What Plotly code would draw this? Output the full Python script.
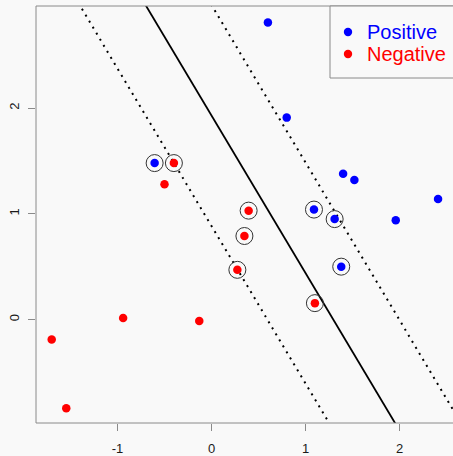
import plotly.graph_objects as go

# ---- data ----
positive_x = [0.60, 0.80, -0.605, 1.09, 1.31, 1.40, 1.52, 1.38, 1.96, 2.41]
positive_y = [2.81, 1.91, 1.48, 1.04, 0.95, 1.38, 1.32, 0.50, 0.94, 1.14]
positive_sv = [2, 3, 4, 7]

negative_x = [-0.40, -0.50, 0.395, 0.35, 0.275, 1.10, -0.94, -0.13, -1.70, -1.545]
negative_y = [1.48, 1.28, 1.03, 0.79, 0.47, 0.155, 0.015, -0.015, -0.19, -0.84]
negative_sv = [0, 2, 3, 4, 5]

boundary_intercept = 1.93
boundary_slope = -1.49
margin_offset = 1.045

x_tick_vals = [-1, 0, 1, 2]
x_tick_text = ["-1", "0", "1", "2"]
y_tick_vals = [0, 1, 2]
y_tick_text = ["0", "1", "2"]

legend_labels = ["Positive", "Negative"]
legend_colors = ["#0000ff", "#ff0000"]

x_range = [-1.867, 2.569]
y_range = [-0.979, 2.966]

# ---- figure ----
BG = "#f9f9f9"
GREY = "#8a8a8a"
W, H = 453, 456
ML, MR, MT, MB = 36, 0, 6, 33
PW, PH = W - ML - MR, H - MT - MB


def px_x(p):
    return (p - ML) / PW


def px_y(p):
    return (H - MB - p) / PH


fig = go.Figure()

line_x = [x_range[0] - 1, x_range[1] + 1]


def line_y(a):
    return [a + boundary_slope * v for v in line_x]


fig.add_trace(go.Scatter(x=line_x, y=line_y(boundary_intercept), mode="lines",
                         line=dict(color="black", width=1.8), showlegend=False, hoverinfo="skip"))
for sgn in (-1, 1):
    fig.add_trace(go.Scatter(x=line_x, y=line_y(boundary_intercept + sgn * margin_offset),
                             mode="lines", line=dict(color="black", width=2, dash="2px,5px"),
                             showlegend=False, hoverinfo="skip"))

fig.add_trace(go.Scatter(x=positive_x, y=positive_y, mode="markers", name="Positive",
                         showlegend=False, marker=dict(color=legend_colors[0], size=8.5)))
fig.add_trace(go.Scatter(x=negative_x, y=negative_y, mode="markers", name="Negative",
                         showlegend=False, marker=dict(color=legend_colors[1], size=8.5)))

sv_x = [positive_x[i] for i in positive_sv] + [negative_x[i] for i in negative_sv]
sv_y = [positive_y[i] for i in positive_sv] + [negative_y[i] for i in negative_sv]
fig.add_trace(go.Scatter(x=sv_x, y=sv_y, mode="markers", showlegend=False,
                         marker=dict(symbol="circle-open", size=17, color="#333333",
                                     line=dict(width=1))))

# plot box (right side falls outside the window)
fig.add_shape(type="rect", xref="paper", yref="paper", x0=0, x1=1.05, y0=0, y1=1,
              line=dict(color=GREY, width=1))

# legend box (drawn like R's legend())
fig.add_shape(type="rect", xref="paper", yref="paper", x0=px_x(330), x1=1.1,
              y0=px_y(78), y1=1, line=dict(color=GREY, width=1), fillcolor=BG)
for i, (lab, col) in enumerate(zip(legend_labels, legend_colors)):
    yc = px_y(32 + 22 * i)
    fig.add_shape(type="circle", xref="paper", yref="paper", xsizemode="pixel",
                  ysizemode="pixel", xanchor=px_x(348), yanchor=yc,
                  x0=-4.2, x1=4.2, y0=-4.2, y1=4.2, fillcolor=col, line=dict(width=0))
    fig.add_annotation(xref="paper", yref="paper", x=px_x(365), y=yc, text=lab,
                       showarrow=False, xanchor="left", yanchor="middle",
                       font=dict(size=20, color=col))

fig.update_layout(
    width=W, height=H,
    margin=dict(l=ML, r=MR, t=MT, b=MB, autoexpand=False),
    paper_bgcolor=BG, plot_bgcolor=BG,
    font=dict(family="Liberation Sans, Arial, sans-serif", size=13, color="#1a1a1a"),
    showlegend=False,
    xaxis=dict(range=x_range, showgrid=False, zeroline=False, showline=False,
               automargin=False,
               tickmode="array", tickvals=x_tick_vals, ticktext=x_tick_text,
               ticks="outside", ticklen=7, tickcolor=GREY, ticklabelstandoff=6),
    yaxis=dict(range=y_range, showgrid=False, zeroline=False, showline=False,
               automargin=False,
               tickmode="array", tickvals=y_tick_vals, ticktext=y_tick_text,
               ticks="outside", ticklen=7, tickcolor=GREY, tickangle=-90,
               ticklabelstandoff=4),
)

fig.write_html("out.html")
